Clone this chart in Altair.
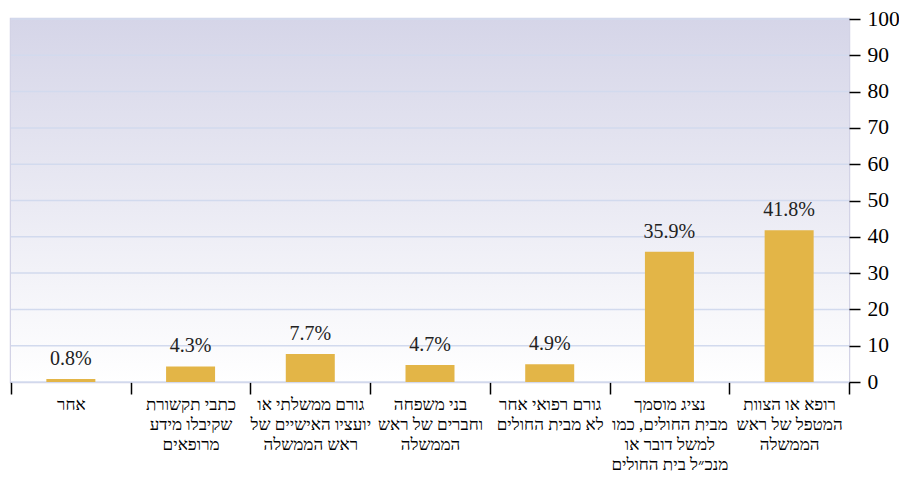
import altair as alt
import pandas as pd

categories = [
    "אחר",
    "כתבי תקשורת|שקיבלו מידע|מרופאים",
    "גורם ממשלתי או|יועציו האישיים של|ראש הממשלה",
    "בני משפחה|וחברים של ראש|הממשלה",
    "גורם רפואי אחר|לא מבית החולים",
    "נציג מוסמך|מבית החולים, כמו|למשל דובר או|מנכ״ל בית החולים",
    "רופא או הצוות|המטפל של ראש|הממשלה",
]
values = [0.8, 4.3, 7.7, 4.7, 4.9, 35.9, 41.8]
value_labels = ["0.8%", "4.3%", "7.7%", "4.7%", "4.9%", "35.9%", "41.8%"]
y_ticks = [0, 10, 20, 30, 40, 50, 60, 70, 80, 90, 100]

W, H = 838, 363
PAD = {"left": 3, "top": 11, "right": 50, "bottom": 93}

df = pd.DataFrame({"category": categories, "value": values, "label": value_labels})
grid_df = pd.DataFrame({"v": y_ticks})
bg_df = pd.DataFrame({"lo": [0], "hi": [100]})

yscale = alt.Scale(domain=[0, 100], nice=False)
yaxis = alt.Axis(
    orient="right", values=y_ticks, title=None, grid=False, domain=False,
    tickSize=11, tickColor="#000", tickWidth=1.5, labelPadding=7,
    labelFont="Liberation Serif", labelFontSize=21.5, labelColor="#000",
)
xaxis = alt.Axis(
    title=None, labelAngle=0, labelExpr="split(datum.label, '|')",
    tickBand="extent", tickSize=12, tickColor="#000", tickWidth=1.5,
    domain=False, grid=False, labelFont="Liberation Sans Narrow", labelFontSize=17,
    labelColor="#000", labelLineHeight=20, labelPadding=2, labelLimit=300,
    labelAlign="center", labelBaseline="top",
)
xenc = alt.X("category:N", sort=categories,
             scale=alt.Scale(paddingInner=0, paddingOuter=0), axis=xaxis)

bg = alt.Chart(bg_df).mark_rect(
    color=alt.Gradient(
        gradient="linear", x1=0, x2=0, y1=0, y2=1,
        stops=[alt.GradientStop(color="#d5d5e8", offset=0),
               alt.GradientStop(color="#ffffff", offset=1)],
    )
).encode(
    x=alt.value(0), x2=alt.value(W),
    y=alt.Y("hi:Q", scale=yscale, axis=yaxis), y2="lo:Q",
)

grid = alt.Chart(grid_df).mark_rule(color="#d2daee", strokeWidth=1.5).encode(
    y=alt.Y("v:Q", scale=yscale, axis=yaxis)
)

bars = alt.Chart(df).mark_bar(color="#e3b547", width=49).encode(
    x=xenc, y=alt.Y("value:Q", scale=yscale, axis=yaxis)
)

text = alt.Chart(df).mark_text(
    dy=-10, baseline="bottom", font="Liberation Serif", fontSize=20, color="#222"
).encode(
    x=xenc, y=alt.Y("value:Q", scale=yscale, axis=yaxis), text="label:N"
)

chart = alt.layer(bg, grid, bars, text).properties(
    width=W, height=H, padding=PAD,
    autosize=alt.AutoSizeParams(type="none"),
).configure_view(stroke="#d3d3e6", strokeWidth=2.5)

chart.save("out.html", embed_options={"renderer": "svg", "actions": False})
